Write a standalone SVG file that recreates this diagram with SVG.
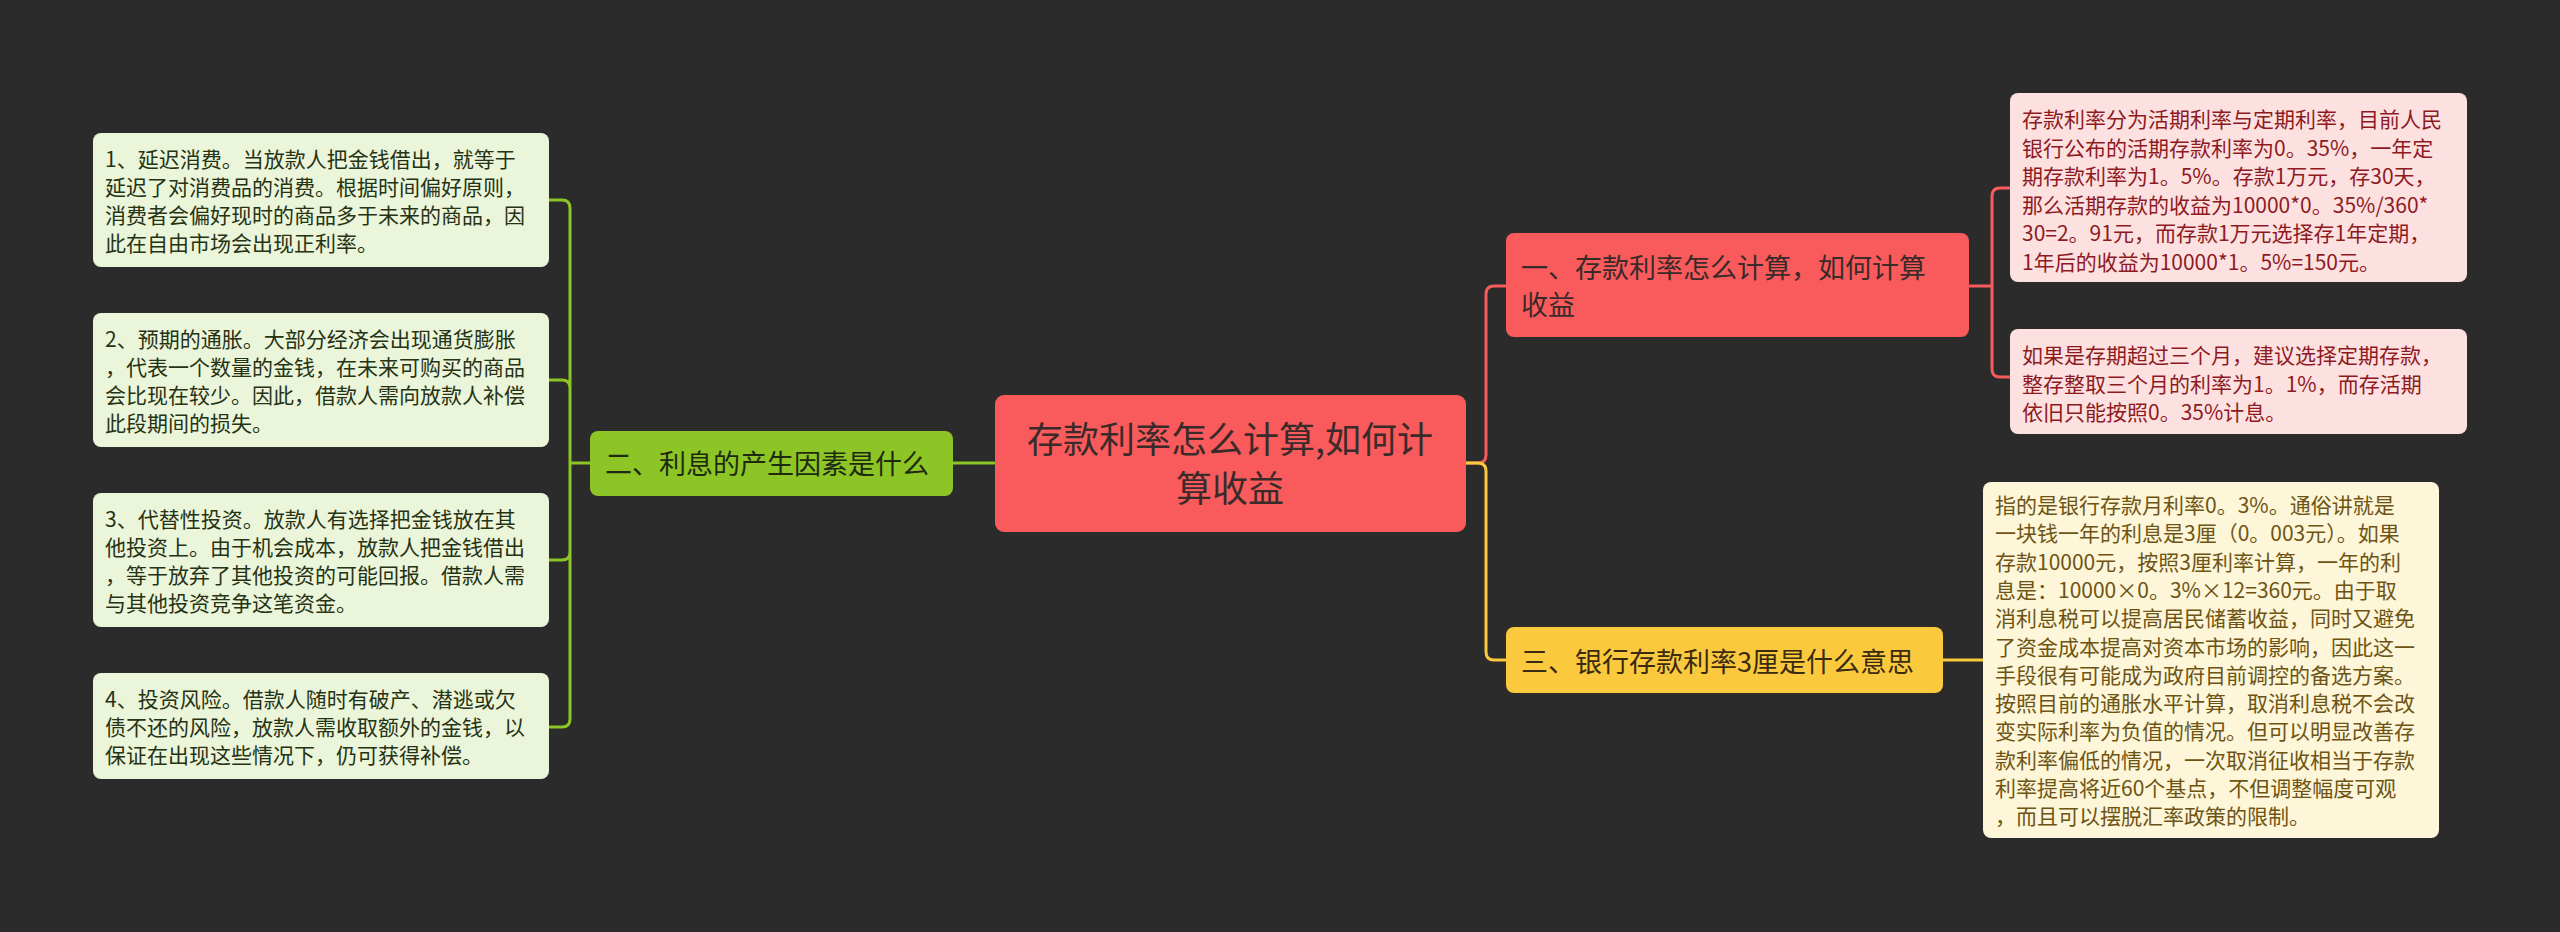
<svg xmlns="http://www.w3.org/2000/svg" width="2560" height="932" viewBox="0 0 2560 932">
<style>
text{font-family:"Noto Sans CJK SC","Noto Sans",sans-serif}
.lr{fill:#fde1e1}.lrt{fill:#8e1a1f;font-size:21px}
.ly{fill:#fdf6d8}.lyt{fill:#6e5414;font-size:21px}
.lg{fill:#ebf5d9}.lgt{fill:#263214;font-size:21px}
.c{fill:none;stroke-width:3}
</style>
<rect width="2560" height="932" fill="#2b2b2b"/>
<g id="connectors">
<path class="c" stroke="#f95a5c" d="M1466 463 H1478 Q1486 463 1486 455 V294 Q1486 286 1494 286 H1506"/>
<path class="c" stroke="#fbc93d" d="M1466 463 H1478 Q1486 463 1486 471 V652 Q1486 660 1494 660 H1506"/>
<path class="c" stroke="#f95a5c" d="M1969 286 H1992 M1992 196 Q1992 188 2000 188 H2010 M1992 196 V369 Q1992 377 2000 377 H2010"/>
<path class="c" stroke="#fbc93d" d="M1943 660 H1983"/>
<path class="c" stroke="#8cc525" d="M995 463 H953"/>
<path class="c" stroke="#8cc525" d="M590 463 H570 M549 200 H562 Q570 200 570 208 V719 Q570 727 562 727 H549 M549 380 H562 Q570 380 570 388 M549 560 H562 Q570 560 570 552"/>
</g>
<g id="root">
<rect x="995" y="395" width="471" height="137" rx="9" fill="#f95a5c"/>
<text x="1230" y="453" font-size="36" fill="#3a2a2a" text-anchor="middle">存款利率怎么计算,如何计</text>
<text x="1230" y="502" font-size="36" fill="#3a2a2a" text-anchor="middle">算收益</text>
</g>
<g id="branch1">
<rect x="1506" y="233" width="463" height="104" rx="8" fill="#f95a5c"/>
<text font-size="27" fill="#3a2a2a"><tspan x="1521" y="278">一、存款利率怎么计算，如何计算</tspan><tspan x="1521" y="315">收益</tspan></text>
</g>
<g id="leaf1a">
<rect class="lr" x="2010" y="93" width="457" height="189" rx="8"/>
<text class="lrt"><tspan x="2022" y="127">存款利率分为活期利率与定期利率，目前人民</tspan><tspan x="2022" y="155.5">银行公布的活期存款利率为0。35%，一年定</tspan><tspan x="2022" y="184">期存款利率为1。5%。存款1万元，存30天，</tspan><tspan x="2022" y="212.5">那么活期存款的收益为10000*0。35%/360*</tspan><tspan x="2022" y="241">30=2。91元，而存款1万元选择存1年定期，</tspan><tspan x="2022" y="269.5">1年后的收益为10000*1。5%=150元。</tspan></text>
</g>
<g id="leaf1b">
<rect class="lr" x="2010" y="329" width="457" height="105" rx="8"/>
<text class="lrt"><tspan x="2022" y="363">如果是存期超过三个月，建议选择定期存款，</tspan><tspan x="2022" y="391.5">整存整取三个月的利率为1。1%，而存活期</tspan><tspan x="2022" y="420">依旧只能按照0。35%计息。</tspan></text>
</g>
<g id="branch3">
<rect x="1506" y="627" width="437" height="66" rx="8" fill="#fbc93d"/>
<text x="1521" y="672" font-size="27" fill="#3a2a10">三、银行存款利率3厘是什么意思</text>
</g>
<g id="leaf3">
<rect class="ly" x="1983" y="482" width="456" height="356" rx="8"/>
<text class="lyt"><tspan x="1995" y="513">指的是银行存款月利率0。3%。通俗讲就是</tspan><tspan x="1995" y="541.3">一块钱一年的利息是3厘（0。003元）。如果</tspan><tspan x="1995" y="569.6">存款10000元，按照3厘利率计算，一年的利</tspan><tspan x="1995" y="597.9">息是：10000×0。3%×12=360元。由于取</tspan><tspan x="1995" y="626.2">消利息税可以提高居民储蓄收益，同时又避免</tspan><tspan x="1995" y="654.5">了资金成本提高对资本市场的影响，因此这一</tspan><tspan x="1995" y="682.8">手段很有可能成为政府目前调控的备选方案。</tspan><tspan x="1995" y="711.1">按照目前的通胀水平计算，取消利息税不会改</tspan><tspan x="1995" y="739.4">变实际利率为负值的情况。但可以明显改善存</tspan><tspan x="1995" y="767.7">款利率偏低的情况，一次取消征收相当于存款</tspan><tspan x="1995" y="796">利率提高将近60个基点，不但调整幅度可观</tspan><tspan x="1995" y="824.3">，而且可以摆脱汇率政策的限制。</tspan></text>
</g>
<g id="branch2">
<rect x="590" y="431" width="363" height="65" rx="8" fill="#8cc525"/>
<text x="605" y="474" font-size="27" fill="#1e2a10">二、利息的产生因素是什么</text>
</g>
<g id="leaf2a">
<rect class="lg" x="93" y="133" width="456" height="134" rx="8"/>
<text class="lgt"><tspan x="105" y="167">1、延迟消费。当放款人把金钱借出，就等于</tspan><tspan x="105" y="195">延迟了对消费品的消费。根据时间偏好原则，</tspan><tspan x="105" y="223">消费者会偏好现时的商品多于未来的商品，因</tspan><tspan x="105" y="251">此在自由市场会出现正利率。</tspan></text>
</g>
<g id="leaf2b">
<rect class="lg" x="93" y="313" width="456" height="134" rx="8"/>
<text class="lgt"><tspan x="105" y="347">2、预期的通胀。大部分经济会出现通货膨胀</tspan><tspan x="105" y="375">，代表一个数量的金钱，在未来可购买的商品</tspan><tspan x="105" y="403">会比现在较少。因此，借款人需向放款人补偿</tspan><tspan x="105" y="431">此段期间的损失。</tspan></text>
</g>
<g id="leaf2c">
<rect class="lg" x="93" y="493" width="456" height="134" rx="8"/>
<text class="lgt"><tspan x="105" y="527">3、代替性投资。放款人有选择把金钱放在其</tspan><tspan x="105" y="555">他投资上。由于机会成本，放款人把金钱借出</tspan><tspan x="105" y="583">，等于放弃了其他投资的可能回报。借款人需</tspan><tspan x="105" y="611">与其他投资竞争这笔资金。</tspan></text>
</g>
<g id="leaf2d">
<rect class="lg" x="93" y="673" width="456" height="106" rx="8"/>
<text class="lgt"><tspan x="105" y="707">4、投资风险。借款人随时有破产、潜逃或欠</tspan><tspan x="105" y="735">债不还的风险，放款人需收取额外的金钱，以</tspan><tspan x="105" y="763">保证在出现这些情况下，仍可获得补偿。</tspan></text>
</g>
</svg>
